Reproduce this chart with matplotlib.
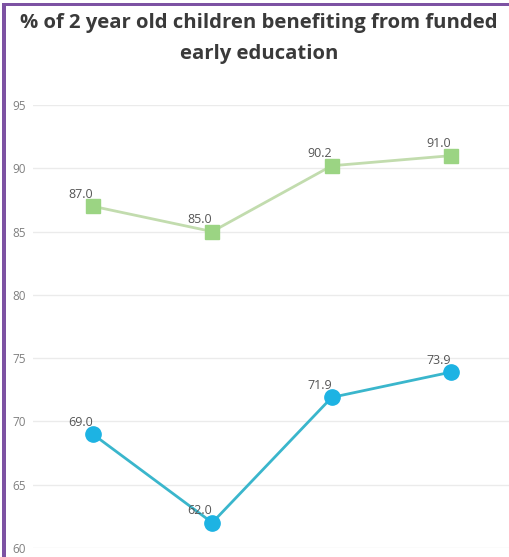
import matplotlib
matplotlib.use("Agg")
import matplotlib.pyplot as plt
from matplotlib.patches import Rectangle
from matplotlib import font_manager as fm

categories = ["A", "B", "C", "D"]
series_green = [87.0, 85.0, 90.2, 91.0]
series_blue = [69.0, 62.0, 71.9, 73.9]
yticks = [60, 65, 70, 75, 80, 85, 90, 95]
title = "% of 2 year old children benefiting from funded\nearly education"

title_fp = None
cands = [f for f in fm.fontManager.ttflist if f.name == "Open Sans"]
best = None
for f in cands:
    fname = f.fname.lower()
    if "condensed" in fname or "italic" in fname or f.style != "normal":
        continue
    w = f.weight if isinstance(f.weight, int) else 400
    if w in (600, 700):
        if best is None or abs(w - 700) < abs(best[0] - 700):
            best = (w, f.fname)
if best:
    title_fp = fm.FontProperties(fname=best[1], size=14.6)
else:
    title_fp = fm.FontProperties(family="Open Sans", weight="bold", size=14.6)

W, H = 510, 557
fig = plt.figure(figsize=(W / 100, H / 100), dpi=100)
fig.patch.set_facecolor("white")

ax = fig.add_axes([33 / W, 1 - 548 / H, (511 - 33) / W, (548 - 105) / H])
ax.set_xlim(-0.5, 3.5)
ax.set_ylim(60, 95)
ax.set_facecolor("white")
for s in ax.spines.values():
    s.set_visible(False)
ax.set_xticks([])
ax.set_yticks(yticks)
ax.set_yticklabels([str(t) for t in yticks], family="Open Sans", fontsize=8.5, color="#808080")
for lab in ax.get_yticklabels():
    lab.set_horizontalalignment("left")
ax.tick_params(axis="y", length=0, pad=15)
ax.yaxis.grid(True, color="#ebebeb", linewidth=1)
ax.set_axisbelow(True)

x = list(range(len(categories)))
ax.plot(x, series_green, color="#c2dcae", linewidth=2, marker="s", markersize=10,
        markerfacecolor="#9bd483", markeredgecolor="#9bd483", clip_on=False, zorder=3)
ax.plot(x, series_blue, color="#3ab6cc", linewidth=2, marker="o", markersize=11,
        markerfacecolor="#1db3e3", markeredgecolor="#1db3e3", clip_on=False, zorder=3)

for xi, v in zip(x, series_green):
    ax.annotate(f"{v:.1f}", (xi, v), xytext=(0, 4), textcoords="offset points",
                ha="right", va="bottom", fontsize=9, family="Open Sans", color="#555555", zorder=4)
for xi, v in zip(x, series_blue):
    ax.annotate(f"{v:.1f}", (xi, v), xytext=(0, 4), textcoords="offset points",
                ha="right", va="bottom", fontsize=9, family="Open Sans", color="#555555", zorder=4)

fig.text(259 / W, 1 - 38.5 / H, title, ha="center", va="center",
         fontproperties=title_fp, color="#3a3a3a", linespacing=1.7)

purple = "#7d52a3"
fig.patches.append(Rectangle((2 / W, 0), 4 / W, 1 - 3 / H, transform=fig.transFigure,
                             facecolor=purple, edgecolor="none"))
fig.patches.append(Rectangle((2 / W, 1 - 6 / H), 1, 3 / H, transform=fig.transFigure,
                             facecolor=purple, edgecolor="none"))

fig.savefig("out.png", dpi=100)
